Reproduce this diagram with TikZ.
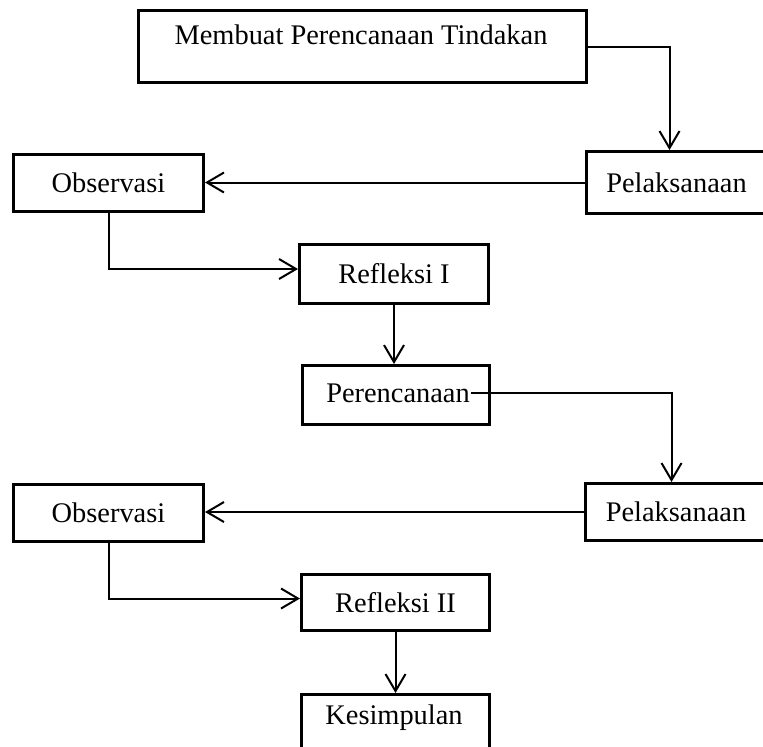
\documentclass[tikz,border=0pt]{standalone}
\usepackage{fontspec}
\setmainfont{Liberation Serif}
\usetikzlibrary{arrows.meta,calc}
\begin{document}
\begin{tikzpicture}[x=0.5pt,y=-0.5pt,
  box/.style={draw,line width=1.5pt,rectangle,inner sep=0pt,anchor=north west,font=\fontsize{14.2}{17}\selectfont},
  lbl/.style={inner sep=0.5pt,font=\fontsize{14.2}{17}\selectfont},
  arr/.style={line width=1pt,-{Straight Barb[length=8.5pt,width=10pt,line width=1pt]}}]
\useasboundingbox (0,0) rectangle (763,746);
\clip (0,0) rectangle (763,746);
% boxes
\node[box,minimum width=224pt,minimum height=36pt] (b1) at (137,9) {};
\node[lbl] (b1t) at (361,35) {Membuat Perencanaan Tindakan};
\node[box,minimum width=90pt,minimum height=31pt] (p1) at (585,150) {Pelaksanaan};
\node[box,minimum width=95pt,minimum height=28.5pt] (o1) at (12,153) {Observasi};
\node[box,minimum width=94.5pt,minimum height=29.5pt] (r1) at (298,243) {Refleksi I};
\node[box,minimum width=93.5pt,minimum height=29.5pt] (per) at (301,364) {};
\node[lbl] (pert) at ($(per.center)+(2,-2)$) {Perencanaan};
\node[box,minimum width=90.5pt,minimum height=28.5pt] (p2) at (584,482) {Pelaksanaan};
\node[box,minimum width=95pt,minimum height=28.5pt] (o2) at (12,483) {Observasi};
\node[box,minimum width=94pt,minimum height=28pt] (r2) at (300,573) {Refleksi II};
\node[box,minimum width=94pt,minimum height=35pt] (kes) at (300,693) {};
\node[lbl] (kest) at (394,718) {Kesimpulan};
% connectors
\draw[arr] (b1.east) -| ([xshift=-3.5pt]p1.north);
\draw[arr] (p1.west) -- (o1.east |- p1.west);
\draw[arr] (o1.south) |- ([yshift=2.5pt]r1.west);
\draw[arr] (r1.south) -- (r1.south |- per.north);
\draw[arr] (pert.east) -| ([xshift=-2.25pt]p2.north);
\draw[arr] (p2.west) -- (o2.east |- p2.west);
\draw[arr] (o2.south) |- ([yshift=2pt]r2.west);
\draw[arr] (r2.south) -- (r2.south |- kes.north);
\end{tikzpicture}
\end{document}
